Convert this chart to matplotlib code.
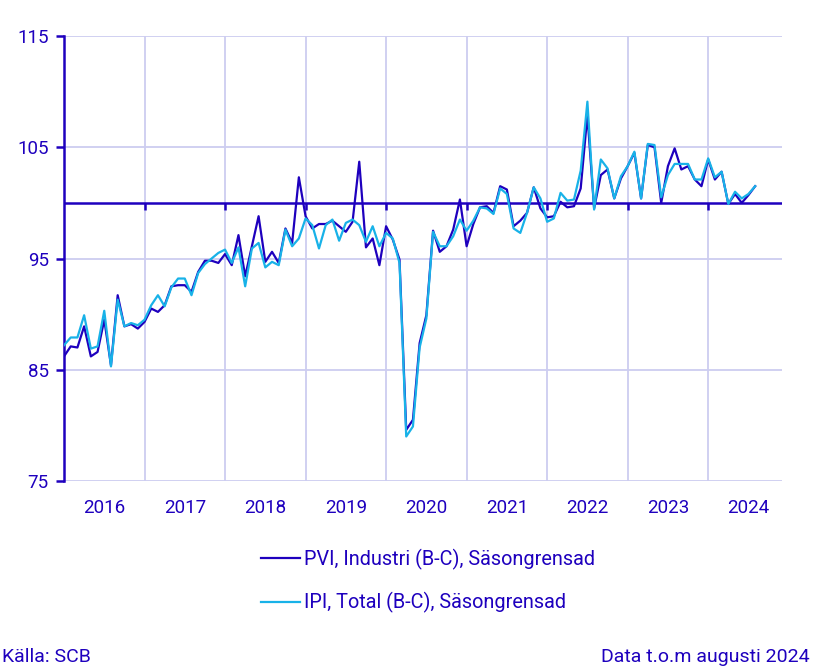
import matplotlib
matplotlib.use("Agg")
import matplotlib.pyplot as plt
import numpy as np

plt.rcParams['font.family'] = ['Roboto', 'DejaVu Sans']

# Monthly values, jan 2016 - aug 2024
years = [2016, 2017, 2018, 2019, 2020, 2021, 2022, 2023, 2024]

pvi = [
    86.2, 87.1, 87.0, 88.9, 86.2, 86.6, 89.5, 85.4, 91.7, 88.9, 89.1, 88.7,
    89.3, 90.5, 90.2, 90.8, 92.5, 92.6, 92.6, 92.0, 93.8, 94.8, 94.8, 94.6,
    95.4, 94.4, 97.1, 93.4, 96.1, 98.8, 94.7, 95.6, 94.6, 97.7, 96.4, 102.3,
    98.8, 97.7, 98.1, 98.1, 98.4, 97.9, 97.4, 98.3, 103.7, 96.0, 96.8, 94.4,
    97.9, 96.7, 94.9, 79.6, 80.5, 87.4, 89.9, 97.5, 95.6, 96.1, 97.6, 100.3,
    96.1, 98.1, 99.6, 99.7, 99.1, 101.5, 101.2, 97.9, 98.4, 99.1, 101.4, 99.5,
    98.7, 98.8, 100.1, 99.6, 99.7, 101.3, 107.9, 99.5, 102.5, 103.0, 100.4, 102.2,
    103.3, 104.5, 100.4, 105.2, 105.0, 100.0, 103.3, 104.9, 103.0, 103.3, 102.1, 101.5,
    103.9, 102.1, 102.8, 99.9, 100.8, 100.0, 100.7, 101.5,
]

ipi = [
    87.2, 87.9, 87.9, 89.9, 86.9, 87.1, 90.3, 85.3, 91.3, 88.9, 89.2, 89.0,
    89.5, 90.8, 91.7, 90.7, 92.4, 93.2, 93.2, 91.7, 93.7, 94.5, 95.0, 95.5,
    95.8, 94.6, 96.0, 92.5, 95.9, 96.4, 94.2, 94.7, 94.4, 97.6, 96.1, 96.8,
    98.6, 98.0, 95.9, 98.0, 98.5, 96.6, 98.2, 98.5, 98.0, 96.5, 97.9, 96.1,
    97.3, 96.8, 94.6, 79.0, 79.9, 87.0, 89.6, 97.4, 96.1, 96.1, 97.0, 98.5,
    97.5, 98.4, 99.6, 99.5, 99.0, 101.3, 100.8, 97.7, 97.3, 99.1, 101.4, 100.4,
    98.3, 98.6, 100.9, 100.2, 100.3, 102.9, 109.1, 99.4, 103.9, 103.1, 100.4, 102.4,
    103.3, 104.6, 100.4, 105.3, 105.2, 100.5, 102.5, 103.5, 103.5, 103.5, 102.1, 102.1,
    104.0, 102.3, 102.8, 99.9, 101.0, 100.4, 100.8, 101.5,
]

y_ticks = [75, 85, 95, 105, 115]
base = 100

dark = '#1e00be'
light = '#18b2e8'
grid = '#cdcdf0'

months = np.arange(len(pvi))
n_months = len(years) * 12

fig = plt.figure(figsize=(8.15, 6.72), dpi=100)
ax = fig.add_axes([64/815, 1 - 481/672, (782 - 64)/815, (481 - 36)/672])

# grid
for y in y_ticks:
    ax.axhline(y, color=grid, lw=1.3, zorder=0)
for k in range(1, len(years)):
    ax.axvline(k * 12, color=grid, lw=1.3, zorder=0)

ax.axhline(base, color=dark, lw=1.8, zorder=1)

ax.plot(months, pvi, color=dark, lw=1.6, label='PVI, Industri (B-C), Säsongrensad', zorder=3)
ax.plot(months, ipi, color=light, lw=1.6, label='IPI, Total (B-C), Säsongrensad', zorder=4)

ax.set_xlim(0, n_months - 1)
ax.set_ylim(y_ticks[0], y_ticks[-1])

for s in ['top', 'right', 'bottom']:
    ax.spines[s].set_visible(False)
ax.spines['left'].set_color(dark)
ax.spines['left'].set_linewidth(1.8)

ax.set_yticks(y_ticks)
ax.tick_params(axis='y', colors=dark, length=6, width=1.8, labelsize=13.5, pad=5)

# year labels centered in each year
ax.set_xticks([k * 12 + 6 for k in range(len(years))])
ax.set_xticklabels([str(y) for y in years])
ax.tick_params(axis='x', colors=dark, length=0, labelsize=13.5, pad=13)

# small tick marks below the 100 line at year boundaries
sec = ax.secondary_xaxis((base - y_ticks[0]) / (y_ticks[-1] - y_ticks[0]))
sec.set_xticks([k * 12 for k in range(1, len(years))])
sec.set_xticklabels([])
for s in sec.spines.values():
    s.set_visible(False)
sec.tick_params(axis='x', colors=dark, length=5, width=1.8, direction='in')

leg = fig.legend(loc='center', bbox_to_anchor=(428/815, 1 - 581/672), frameon=False,
                 fontsize=14.3, handlelength=2.0, handletextpad=0.2, labelspacing=1.15)
for t in leg.get_texts():
    t.set_color(dark)

fig.text(0.002, 1 - 657/672, 'Källa: SCB', color=dark, fontsize=14, va='center', ha='left')
fig.text(0.994, 1 - 657/672, 'Data t.o.m augusti 2024', color=dark, fontsize=14, va='center', ha='right')

fig.savefig('out.png', dpi=100)
